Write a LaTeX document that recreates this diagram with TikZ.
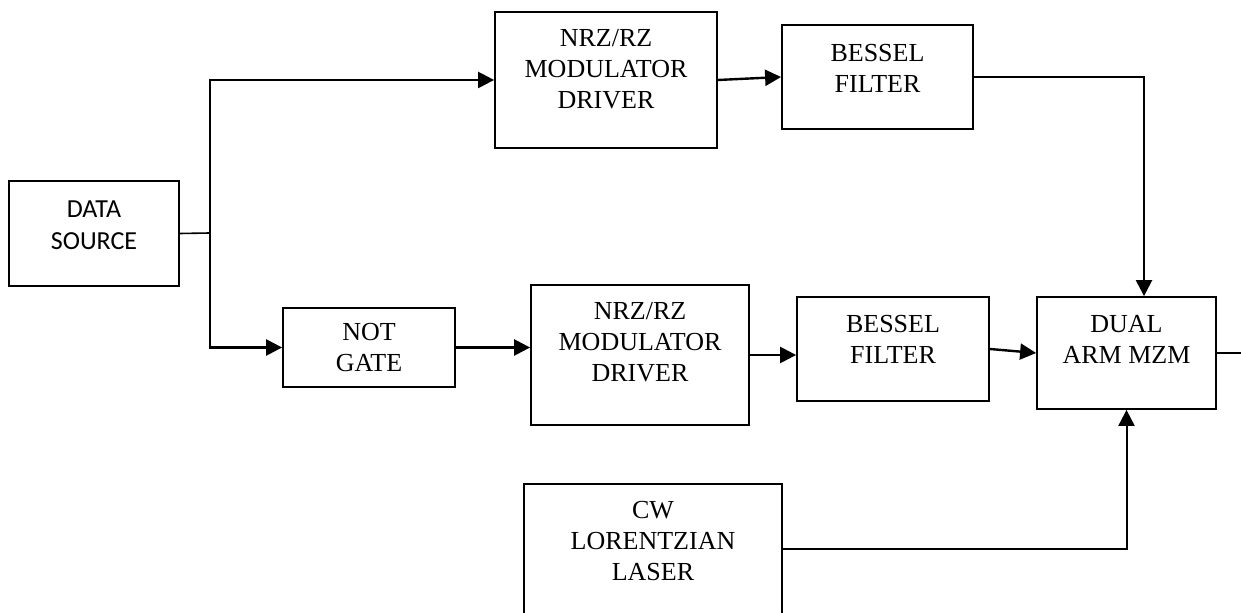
\documentclass[tikz,border=0pt]{standalone}
\usepackage{fontspec}
\setmainfont{Liberation Serif}
\newfontfamily\calibrifont{Carlito}
\usetikzlibrary{arrows.meta}
\newcommand{\lowpad}[1]{\rule[-#1]{0pt}{#1}}

\begin{document}
\begin{tikzpicture}[x=0.5pt, y=-0.5pt, >={Triangle[length=8pt,width=8pt]}]
	% Define styles
	\tikzstyle{block} = [rectangle, draw, line width=0.9pt, align=center, inner sep=0pt, font=\fontsize{13}{15.5}\selectfont]
	\tikzstyle{wire} = [line width=1.2pt]

	\useasboundingbox (0,0) rectangle (1241,613);

	% Nodes
	\node[block, minimum width=85pt, minimum height=52.5pt, font=\calibrifont\fontsize{13}{16}\selectfont] (source) at (94,233.5) {DATA\\SOURCE\lowpad{8pt}};
	\node[block, minimum width=111pt, minimum height=68pt] (nrztop) at (606,80) {NRZ/RZ\\MODULATOR\\DRIVER\lowpad{11.5pt}};
	\node[block, minimum width=95.5pt, minimum height=52pt] (besseltop) at (877.5,77) {BESSEL\\FILTER\lowpad{8.5pt}};
	\node[block, minimum width=86pt, minimum height=39.5pt] (notgate) at (369,347.5) {NOT\\GATE};
	\node[block, minimum width=109pt, minimum height=70pt] (nrzbot) at (640,355) {NRZ/RZ\\MODULATOR\\DRIVER\lowpad{13pt}};
	\node[block, minimum width=96pt, minimum height=52pt] (besselbot) at (893,349) {BESSEL\\FILTER\lowpad{10pt}};
	\node[block, minimum width=89.5pt, minimum height=56pt] (mzm) at (1126.5,353) {DUAL\\ARM MZM\lowpad{14pt}};
	\node[block, minimum width=129pt, minimum height=70.5pt] (laser) at (653,554.5) {CW\\LORENTZIAN\\LASER\lowpad{13.5pt}};

	\coordinate (split) at (210,233);
	\coordinate (bend) at (1144,77);
	\coordinate (out) at (1241,353);

	% Arrows
	\draw[line width=0.8pt] (source.east) -- (split);
	\draw[->, wire] (split) |- (nrztop.west);
	\draw[->, wire] (split) |- (notgate.west);
	\draw[->, wire] (nrztop.east) -- (besseltop.west);
	\draw[->, wire] (notgate.east) -- (notgate.east -| nrzbot.west);
	\draw[->, wire] (nrzbot.east) -- (nrzbot.east -| besselbot.west);
	\draw[->, wire] (besselbot.east) -- (mzm.west);
	\draw[->, wire] (besseltop.east) -- (bend) -- (bend |- mzm.north);
	\draw[->, line width=1pt] ([yshift=2.75pt]laser.east) -| (mzm.south);
	\draw[line width=0.8pt] (mzm.east) -- (out);
\end{tikzpicture}
\end{document}
